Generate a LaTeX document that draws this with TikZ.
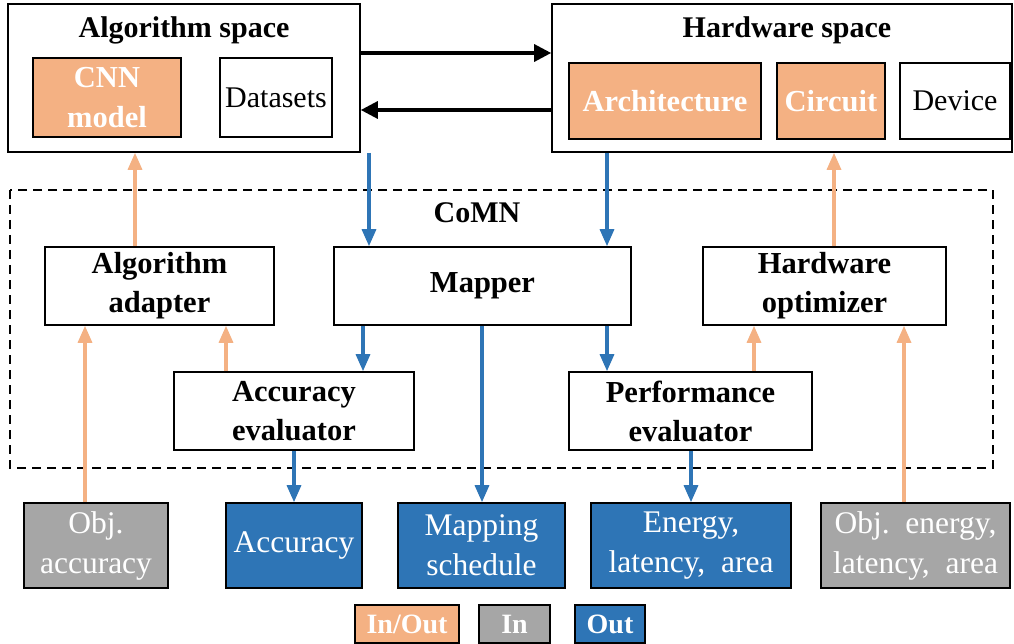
\documentclass[tikz,border=0pt]{standalone}
\usepackage{fontspec}
\setmainfont{Liberation Serif}
\usetikzlibrary{arrows.meta,calc}
\definecolor{ora}{HTML}{F4B183}
\definecolor{blu}{HTML}{2E75B6}
\definecolor{gry}{HTML}{A6A6A6}
\newcommand\mybox[7]{%
  \node[#6, minimum width={(#4-#2)*1pt}, minimum height={(#5-#3)*1pt}] (#1) at ({(#2+#4)/2},{(#3+#5)/2}) {#7};}
\tikzset{
  base/.style={draw=black, line width=1.6pt, inner sep=0pt, align=center, font=\fontsize{30}{38}\selectfont},
  plain/.style={base, fill=white},
  hdr/.style={base, fill=white, font=\fontsize{30.5}{39}\selectfont\bfseries},
  orabox/.style={base, fill=ora, text=white, font=\fontsize{30.5}{40}\selectfont\bfseries},
  inbox/.style={base, fill=gry, text=white, font=\fontsize{31.5}{40}\selectfont},
  outbox/.style={base, fill=blu, text=white, font=\fontsize{31.5}{40}\selectfont},
  legbox/.style={base, text=white, font=\fontsize{28}{34}\selectfont\bfseries},
  blkarr/.style={line width=3.2pt, -{Triangle[length=17pt,width=17pt]}},
  bluarr/.style={draw=blu, line width=3.2pt, -{Triangle[length=17pt,width=14pt]}},
  oraarr/.style={draw=ora, line width=3.2pt, -{Triangle[length=17pt,width=14pt]}},
}
\begin{document}
\begin{tikzpicture}[x=1pt,y=-1pt]
\useasboundingbox[fill=white] (0,0) rectangle (1014,644);
% top spaces
\mybox{alg}{8}{4}{360}{152}{plain}{}
\node[font=\fontsize{30}{37}\selectfont\bfseries] (algt) at (184,30) {Algorithm space};
\mybox{cnn}{33}{58}{181}{137}{orabox}{CNN\\model}
\mybox{data}{220}{58}{332}{137}{plain}{\raisebox{-2pt}{Datasets}}
\mybox{hw}{552}{4}{1012}{152}{plain}{}
\node[font=\fontsize{30}{37}\selectfont\bfseries] (hwt) at (787,30) {Hardware space};
\mybox{arch}{569}{63}{761}{139}{orabox}{\raisebox{-2pt}{Architecture}}
\mybox{circ}{777}{63}{885}{139}{orabox}{\raisebox{-2pt}{Circuit}}
\mybox{dev}{900}{63}{1010}{139}{plain}{\raisebox{-2pt}{Device}}
% CoMN
\draw[line width=2.6pt, dash pattern=on 9pt off 6pt] (10,190) rectangle (993,468);
\node[font=\fontsize{30}{37}\selectfont\bfseries] (comn) at (477,213) {CoMN};
\mybox{adapt}{45}{247}{274}{325}{hdr}{Algorithm\\adapter}
\mybox{mapper}{334}{247}{631}{325}{hdr}{Mapper}
\mybox{hwopt}{703}{247}{946}{325}{hdr}{Hardware\\optimizer}
\mybox{acceval}{174}{372}{414}{450}{hdr}{Accuracy\\evaluator}
\mybox{perfeval}{569}{372}{812}{450}{hdr}{Performance\\evaluator}
% bottom
\mybox{objacc}{24}{503}{168}{588}{inbox}{Obj.\\accuracy}
\mybox{accout}{226}{503}{362}{588}{outbox}{Accuracy}
\mybox{mapsch}{398}{503}{565}{588}{outbox}{Mapping\\schedule}
\mybox{energy}{591}{503}{791}{588}{outbox}{Energy,\\latency,\ \ area}
\mybox{objen}{821}{503}{1010}{588}{inbox}{Obj.\ \ energy,\\latency,\ \ area}
% legend
\mybox{lio}{355}{605}{459}{643}{legbox,fill=ora}{In/Out}
\mybox{lin}{479}{605}{550}{643}{legbox,fill=gry}{In}
\mybox{lout}{575}{605}{645}{643}{legbox,fill=blu}{Out}
% x positions of connectors
\coordinate (xA) at (369,0);
\coordinate (xB) at (607,0);
\coordinate (xC) at (363,0);
\coordinate (xD) at (482,0);
\coordinate (xE) at (294,0);
\coordinate (xF) at (691,0);
\coordinate (xG) at (226,0);
\coordinate (xH) at (754,0);
\coordinate (xI) at (85,0);
\coordinate (xJ) at (904,0);
\coordinate (xK) at (135,0);
\coordinate (xL) at (834,0);
% black arrows
\draw[blkarr] ([yshift=25pt]alg.east) -- ([yshift=25pt]hw.west);
\draw[blkarr] ([yshift=-32pt]hw.west) -- ([yshift=-32pt]alg.east);
% blue arrows
\draw[bluarr] (alg.south -| xA) -- (mapper.north -| xA);
\draw[bluarr] (hw.south -| xB) -- (mapper.north -| xB);
\draw[bluarr] (mapper.south -| xC) -- (acceval.north -| xC);
\draw[bluarr] (mapper.south -| xB) -- (perfeval.north -| xB);
\draw[bluarr] (mapper.south -| xD) -- (mapsch.north -| xD);
\draw[bluarr] (acceval.south -| xE) -- (accout.north -| xE);
\draw[bluarr] (perfeval.south -| xF) -- (energy.north -| xF);
% orange arrows
\draw[oraarr] (adapt.north -| xK) -- (alg.south -| xK);
\draw[oraarr] (hwopt.north -| xL) -- (hw.south -| xL);
\draw[oraarr] (acceval.north -| xG) -- (adapt.south -| xG);
\draw[oraarr] (perfeval.north -| xH) -- (hwopt.south -| xH);
\draw[oraarr] (objacc.north -| xI) -- (adapt.south -| xI);
\draw[oraarr] (objen.north -| xJ) -- (hwopt.south -| xJ);
\end{tikzpicture}
\end{document}
